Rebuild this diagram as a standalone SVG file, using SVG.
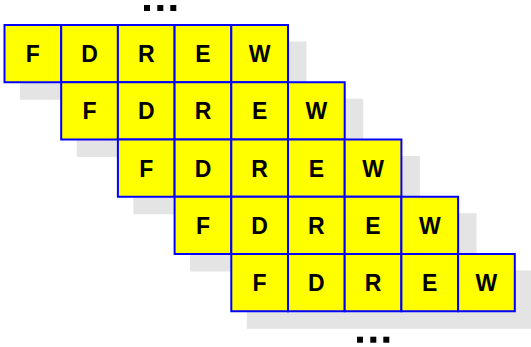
<svg xmlns="http://www.w3.org/2000/svg" width="531" height="347" viewBox="0 0 531 347">
<style>
.sh{fill:#e4e4e4}
.cell{fill:#ffff00;stroke:#0000ff;stroke-width:2}
.t{font-family:"Liberation Sans",Arial,sans-serif;font-weight:bold;font-size:23px;fill:#000;text-anchor:middle}
.dot{fill:#000}
</style>
<rect width="531" height="347" fill="#fff"/>
<g id="shadows">
<rect class="sh" x="20" y="41.5" width="286.5" height="58.25"/>
<rect class="sh" x="76.7" y="98.75" width="286.5" height="58.25"/>
<rect class="sh" x="133.4" y="156" width="286.5" height="58.25"/>
<rect class="sh" x="190.1" y="213.25" width="286.5" height="58.25"/>
<rect class="sh" x="246.8" y="270.5" width="286.5" height="58.25"/>
</g>
<g id="row1" transform="translate(0,25)">
<g id="r1F" transform="translate(4.5,0)"><rect class="cell" width="56.7" height="57.25"/><text class="t" x="28.35" y="37">F</text></g>
<g id="r1D" transform="translate(61.2,0)"><rect class="cell" width="56.7" height="57.25"/><text class="t" x="28.35" y="37">D</text></g>
<g id="r1R" transform="translate(117.9,0)"><rect class="cell" width="56.7" height="57.25"/><text class="t" x="28.35" y="37">R</text></g>
<g id="r1E" transform="translate(174.6,0)"><rect class="cell" width="56.7" height="57.25"/><text class="t" x="28.35" y="37">E</text></g>
<g id="r1W" transform="translate(231.3,0)"><rect class="cell" width="56.7" height="57.25"/><text class="t" x="28.35" y="37">W</text></g>
</g>
<g id="row2" transform="translate(0,82.25)">
<g id="r2F" transform="translate(61.2,0)"><rect class="cell" width="56.7" height="57.25"/><text class="t" x="28.35" y="37">F</text></g>
<g id="r2D" transform="translate(117.9,0)"><rect class="cell" width="56.7" height="57.25"/><text class="t" x="28.35" y="37">D</text></g>
<g id="r2R" transform="translate(174.6,0)"><rect class="cell" width="56.7" height="57.25"/><text class="t" x="28.35" y="37">R</text></g>
<g id="r2E" transform="translate(231.3,0)"><rect class="cell" width="56.7" height="57.25"/><text class="t" x="28.35" y="37">E</text></g>
<g id="r2W" transform="translate(288,0)"><rect class="cell" width="56.7" height="57.25"/><text class="t" x="28.35" y="37">W</text></g>
</g>
<g id="row3" transform="translate(0,139.5)">
<g id="r3F" transform="translate(117.9,0)"><rect class="cell" width="56.7" height="57.25"/><text class="t" x="28.35" y="37">F</text></g>
<g id="r3D" transform="translate(174.6,0)"><rect class="cell" width="56.7" height="57.25"/><text class="t" x="28.35" y="37">D</text></g>
<g id="r3R" transform="translate(231.3,0)"><rect class="cell" width="56.7" height="57.25"/><text class="t" x="28.35" y="37">R</text></g>
<g id="r3E" transform="translate(288,0)"><rect class="cell" width="56.7" height="57.25"/><text class="t" x="28.35" y="37">E</text></g>
<g id="r3W" transform="translate(344.7,0)"><rect class="cell" width="56.7" height="57.25"/><text class="t" x="28.35" y="37">W</text></g>
</g>
<g id="row4" transform="translate(0,196.75)">
<g id="r4F" transform="translate(174.6,0)"><rect class="cell" width="56.7" height="57.25"/><text class="t" x="28.35" y="37">F</text></g>
<g id="r4D" transform="translate(231.3,0)"><rect class="cell" width="56.7" height="57.25"/><text class="t" x="28.35" y="37">D</text></g>
<g id="r4R" transform="translate(288,0)"><rect class="cell" width="56.7" height="57.25"/><text class="t" x="28.35" y="37">R</text></g>
<g id="r4E" transform="translate(344.7,0)"><rect class="cell" width="56.7" height="57.25"/><text class="t" x="28.35" y="37">E</text></g>
<g id="r4W" transform="translate(401.4,0)"><rect class="cell" width="56.7" height="57.25"/><text class="t" x="28.35" y="37">W</text></g>
</g>
<g id="row5" transform="translate(0,254)">
<g id="r5F" transform="translate(231.3,0)"><rect class="cell" width="56.7" height="57.25"/><text class="t" x="28.35" y="37">F</text></g>
<g id="r5D" transform="translate(288,0)"><rect class="cell" width="56.7" height="57.25"/><text class="t" x="28.35" y="37">D</text></g>
<g id="r5R" transform="translate(344.7,0)"><rect class="cell" width="56.7" height="57.25"/><text class="t" x="28.35" y="37">R</text></g>
<g id="r5E" transform="translate(401.4,0)"><rect class="cell" width="56.7" height="57.25"/><text class="t" x="28.35" y="37">E</text></g>
<g id="r5W" transform="translate(458.1,0)"><rect class="cell" width="56.7" height="57.25"/><text class="t" x="28.35" y="37">W</text></g>
</g>
<g id="dots-top">
<rect class="dot" x="144" y="5" width="6" height="6"/>
<rect class="dot" x="157.3" y="5" width="6" height="6"/>
<rect class="dot" x="170.3" y="5" width="6" height="6"/>
</g>
<g id="dots-bottom">
<rect class="dot" x="357" y="336.7" width="6" height="6"/>
<rect class="dot" x="370.3" y="336.7" width="6" height="6"/>
<rect class="dot" x="383.3" y="336.7" width="6" height="6"/>
</g>
</svg>
